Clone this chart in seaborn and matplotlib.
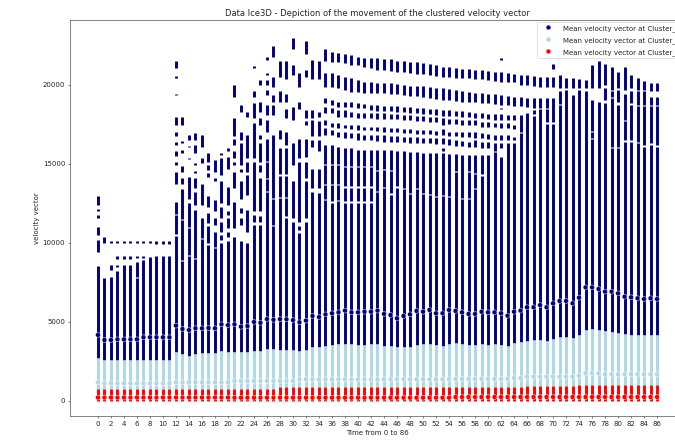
import matplotlib
matplotlib.use("Agg")
import matplotlib.pyplot as plt
import pandas as pd
import seaborn as sns

times = list(range(87))

labels = ["Mean velocity vector at Cluster_0",
          "Mean velocity vector at Cluster_1",
          "Mean velocity vector at Cluster_2"]
colors = ["navy", "lightblue", "red"]

# mean velocity of each cluster per time step (thousands)
c0_mean_k = [4.18, 3.86, 3.86, 3.90, 3.90, 3.90, 3.90, 4.03, 4.03, 4.03, 4.03, 4.03,
             4.77, 4.56, 4.49, 4.60, 4.60, 4.62, 4.60, 4.85, 4.80, 4.85, 4.70, 4.74,
             5.00, 4.95, 5.18, 5.14, 5.18, 5.17, 5.12, 4.98, 5.09, 5.38, 5.31, 5.48,
             5.55, 5.61, 5.72, 5.61, 5.61, 5.65, 5.65, 5.72, 5.51, 5.44, 5.23, 5.38,
             5.48, 5.70, 5.65, 5.76, 5.55, 5.55, 5.76, 5.70, 5.61, 5.51, 5.51, 5.65,
             5.61, 5.61, 5.55, 5.40, 5.65, 5.72, 5.93, 5.93, 6.07, 5.93, 6.18, 6.33,
             6.33, 6.18, 6.54, 7.19, 7.19, 7.09, 6.92, 6.92, 6.81, 6.60, 6.56, 6.50,
             6.45, 6.50, 6.45]
c1_mean_k = [1.18, 1.12, 1.12, 1.12, 1.12, 1.12, 1.12, 1.12, 1.12, 1.12, 1.12, 1.12,
             1.18, 1.18, 1.18, 1.18, 1.18, 1.18, 1.18, 1.18, 1.18, 1.27, 1.27, 1.27,
             1.27, 1.27, 1.27, 1.27, 1.27, 1.27, 1.27, 1.37, 1.37, 1.37, 1.37, 1.37,
             1.37, 1.37, 1.37, 1.37, 1.37, 1.37, 1.37, 1.37, 1.37, 1.37, 1.37, 1.37,
             1.37, 1.37, 1.37, 1.37, 1.37, 1.37, 1.37, 1.39, 1.39, 1.39, 1.39, 1.39,
             1.39, 1.39, 1.39, 1.39, 1.45, 1.45, 1.54, 1.54, 1.54, 1.54, 1.54, 1.54,
             1.54, 1.54, 1.60, 1.75, 1.75, 1.75, 1.69, 1.69, 1.69, 1.69, 1.69, 1.69,
             1.69, 1.69, 1.69]
c2_mean_k = [0.22, 0.22, 0.22, 0.22, 0.22, 0.22, 0.22, 0.22, 0.22, 0.22, 0.22, 0.22,
             0.22, 0.22, 0.22, 0.22, 0.22, 0.22, 0.22, 0.22, 0.22, 0.21, 0.21, 0.21,
             0.21, 0.21, 0.21, 0.21, 0.21, 0.21, 0.21, 0.21, 0.21, 0.21, 0.21, 0.21,
             0.21, 0.21, 0.21, 0.21, 0.21, 0.21, 0.21, 0.21, 0.21, 0.21, 0.21, 0.21,
             0.21, 0.21, 0.21, 0.21, 0.21, 0.21, 0.21, 0.25, 0.25, 0.25, 0.25, 0.25,
             0.25, 0.25, 0.25, 0.25, 0.25, 0.25, 0.25, 0.25, 0.25, 0.25, 0.25, 0.25,
             0.25, 0.25, 0.25, 0.25, 0.25, 0.25, 0.25, 0.25, 0.25, 0.25, 0.25, 0.25,
             0.25, 0.25, 0.25]

# upper edge of the cluster 1 and cluster 2 value ranges (thousands)
c1_top_k = [2.74, 2.59, 2.59, 2.59, 2.59, 2.59, 2.59, 2.59, 2.59, 2.59, 2.59, 2.59,
            3.08, 2.98, 2.87, 2.98, 3.03, 3.03, 3.03, 3.14, 3.12, 3.12, 3.08, 3.08,
            3.19, 3.19, 3.27, 3.27, 3.23, 3.23, 3.23, 3.19, 3.23, 3.44, 3.40, 3.50,
            3.54, 3.59, 3.61, 3.59, 3.54, 3.54, 3.59, 3.61, 3.50, 3.48, 3.44, 3.40,
            3.44, 3.54, 3.59, 3.59, 3.54, 3.50, 3.61, 3.65, 3.59, 3.52, 3.52, 3.61,
            3.57, 3.59, 3.57, 3.50, 3.67, 3.71, 3.82, 3.84, 3.88, 3.82, 3.94, 4.03,
            4.03, 3.99, 4.18, 4.52, 4.58, 4.52, 4.45, 4.37, 4.30, 4.26, 4.20, 4.20,
            4.18, 4.20, 4.20]
c2_top_k = [0.76, 0.76, 0.76, 0.76, 0.76, 0.76, 0.76, 0.76, 0.76, 0.76, 0.76, 0.76,
            0.76, 0.76, 0.76, 0.76, 0.76, 0.76, 0.76, 0.76, 0.76, 0.76, 0.76, 0.76,
            0.76, 0.76, 0.76, 0.76, 0.87, 0.87, 0.87, 0.87, 0.87, 0.87, 0.87, 0.87,
            0.87, 0.87, 0.87, 0.87, 0.87, 0.87, 0.87, 0.87, 0.87, 0.87, 0.87, 0.87,
            0.87, 0.87, 0.87, 0.87, 0.87, 0.87, 0.87, 0.91, 0.91, 0.91, 0.91, 0.91,
            0.91, 0.91, 0.91, 0.91, 0.91, 0.91, 0.97, 0.97, 0.97, 0.97, 0.97, 0.97,
            0.97, 0.97, 1.04, 1.04, 1.04, 1.04, 1.04, 1.04, 1.04, 1.04, 1.04, 1.04,
            1.04, 1.04, 1.04]

# cluster 0: top of the dense lower range (thousands)
c0_main_top_k = [8.54, 7.80, 7.87, 8.25, 8.60, 8.60, 8.80, 8.90, 9.10, 9.15, 9.15, 9.15,
                 12.6, 13.4, 12.5, 12.1, 11.55, 9.85, 9.65, 10.0, 10.1, 10.4, 10.1, 10.0,
                 11.15, 11.15, 16.6, 16.85, 16.0, 16.0, 11.35, 10.6, 11.35, 13.25, 13.15, 16.2,
                 16.2, 16.1, 16.0, 16.0, 15.9, 15.9, 15.9, 15.9, 15.9, 15.9, 15.85, 15.8,
                 15.75, 15.75, 15.7, 15.7, 15.7, 15.7, 15.6, 15.6, 15.55, 15.55, 15.55, 15.55,
                 15.55, 15.75, 15.45, 16.3, 16.3, 16.94, 18.25, 18.4, 18.45, 18.48, 17.5, 19.6,
                 19.7, 19.35, 19.7, 19.6, 19.05, 18.95, 18.85, 16.0, 16.0, 16.4, 16.4, 16.3,
                 16.1, 16.2, 16.1]

# cluster 0: empty values splitting the dense lower range (thousands)
c0_breaks_k = [
    [], [], [], [], [], [], [7.8], [], [], [], [], [],
    [10.5, 11.8], [8.9, 11.5], [9.2, 11.0], [9.0], [10.3],
    [], [], [], [], [], [], [], [], [],
    [13.25, 14.1, 15.15], [11.1, 12.8], [12.9, 14.3], [11.65, 12.9, 14.3],
    [], [], [], [], [],
    [12.75, 13.7, 14.95], [12.6, 13.7, 14.95], [12.7, 13.7, 14.95],
    [12.6, 13.55, 14.85], [12.6, 13.55, 14.85], [12.6, 13.55, 14.85],
    [12.6, 13.55, 14.85], [12.6, 13.55, 14.85],
    [13.25, 14.6], [13.5, 14.65], [13.1, 14.6], [13.55], [13.45], [13.15],
    [13.45], [13.15], [13.05], [12.95], [13.0], [12.95], [14.5], [12.8],
    [12.8, 14.5], [13.45, 14.4], [14.3],
    [], [], [], [], [], [], [],
    [18.1], [], [17.6], [], [18.75],
    [], [], [], [],
    [16.6, 17.05],
    [], [], [], [], [], [], [], [], [], [],
]

# cluster 0: detached value ranges above the dense range (thousands)
c0_upper_k = [
    [(9.4, 10.2), (10.5, 11.0), (11.6, 11.75), (12.0, 12.15), (12.4, 13.0)],
    [(10.0, 10.35)],
    [(8.3, 8.6), (10.0, 10.13)],
    [(8.45, 8.6), (9.0, 9.15), (10.0, 10.13)],
    [(9.0, 9.15), (10.0, 10.13)],
    [(9.0, 9.15), (10.0, 10.13)],
    [(9.05, 9.2), (10.0, 10.13)],
    [(9.05, 9.2), (10.0, 10.13)],
    [(10.0, 10.13)],
    [(9.95, 10.1)],
    [(9.95, 10.1)],
    [(9.95, 10.1)],
    [(13.7, 14.5), (14.95, 15.15), (15.5, 15.8), (16.2, 16.4), (16.8, 17.05),
     (17.45, 18.0), (19.35, 19.45), (20.45, 20.55), (21.05, 21.5)],
    [(13.7, 14.1), (14.5, 14.9), (15.7, 15.9), (16.35, 16.45), (17.45, 18.0)],
    [(12.8, 14.2), (15.3, 15.4), (16.05, 16.15), (16.5, 16.85)],
    [(12.4, 13.25), (13.45, 14.1), (14.45, 14.55), (14.95, 15.05), (15.7, 16.2), (16.5, 16.95)],
    [(12.4, 13.7), (15.05, 15.35), (16.1, 16.85)],
    [(10.0, 11.05), (11.25, 11.9), (12.3, 12.95), (14.2, 14.4), (14.6, 14.95), (15.15, 15.7)],
    [(9.75, 10.7), (11.15, 11.55), (12.0, 12.7), (13.9, 14.1), (14.5, 15.25)],
    [(10.2, 10.5), (10.7, 11.35), (11.55, 12.3), (12.5, 13.9), (14.3, 15.35), (15.55, 15.7)],
    [(10.4, 10.7), (10.95, 11.55), (11.8, 12.0), (12.4, 13.55), (14.7, 15.45), (15.8, 16.0)],
    [(10.95, 12.6), (13.45, 14.5), (14.95, 15.15), (15.35, 15.8), (16.2, 16.6),
     (16.75, 17.9), (19.25, 20.0)],
    [(11.15, 11.55), (11.9, 12.2), (12.8, 13.9), (14.5, 14.7), (14.95, 16.3),
     (16.5, 17.05), (18.3, 18.75)],
    [(10.7, 12.1), (13.05, 14.3), (14.5, 15.15), (15.35, 16.85), (18.0, 18.3)],
    [(11.35, 11.75), (12.0, 15.15), (15.35, 17.6), (17.9, 18.85), (19.25, 19.6), (21.1, 21.2)],
    [(11.35, 11.7), (12.0, 14.1), (14.5, 14.95), (15.15, 16.3), (16.6, 16.85),
     (17.45, 17.9), (18.3, 18.95), (20.0, 20.3)],
    [(17.05, 17.8), (18.1, 18.75), (19.35, 19.7), (20.0, 20.3), (20.65, 20.75), (21.6, 21.8)],
    [(18.1, 18.75), (18.95, 19.35), (19.9, 20.5), (21.8, 22.45)],
    [(16.6, 17.15), (18.95, 19.6), (20.5, 21.5)],
    [(16.2, 17.05), (17.9, 18.5), (18.95, 19.45), (20.4, 21.5)],
    [(11.55, 13.9), (14.95, 16.3), (17.8, 18.6), (20.65, 21.25), (22.3, 23.0)],
    [(10.8, 11.05), (11.35, 15.15), (15.35, 16.6), (18.5, 18.95), (19.9, 20.75)],
    [(11.55, 13.9), (14.1, 15.15), (15.45, 16.6), (17.45, 17.7), (17.9, 18.4),
     (20.5, 20.95), (21.95, 22.75)],
    [(13.45, 14.7), (16.1, 16.5), (16.75, 17.8), (17.9, 18.4), (20.4, 21.6)],
    [(13.45, 14.7), (15.8, 16.5), (16.75, 17.7), (18.0, 18.3), (20.4, 21.5)],
    [(16.84, 17.26), (17.47, 17.79), (18.21, 18.63), (18.84, 19.16), (19.90, 20.74), (21.52, 22.28)],
    [(16.84, 17.15), (17.36, 17.58), (18.21, 18.53), (18.74, 19.05), (19.90, 20.74), (21.48, 22.11)],
    [(16.73, 17.05), (17.26, 17.58), (18.00, 18.42), (18.63, 18.95), (19.79, 20.64), (21.44, 22.01)],
    [(16.63, 17.05), (17.26, 17.47), (18.00, 18.42), (18.63, 18.95), (19.69, 20.53), (21.37, 21.94)],
    [(16.63, 16.94), (17.22, 17.47), (18.00, 18.31), (18.63, 18.90), (19.58, 20.42), (21.27, 21.90)],
    [(16.52, 16.94), (17.15, 17.47), (17.89, 18.21), (18.57, 18.84), (19.58, 20.32), (21.27, 21.80)],
    [(16.52, 16.84), (17.15, 17.36), (17.89, 18.21), (18.53, 18.78), (19.47, 20.21), (21.16, 21.73)],
    [(16.52, 16.84), (17.15, 17.36), (17.89, 18.21), (18.42, 18.74), (19.47, 20.21), (21.06, 21.69)],
    [(16.46, 16.84), (17.09, 17.36), (17.85, 18.21), (18.36, 18.74), (19.47, 20.11), (20.95, 21.69)],
    [(16.42, 16.84), (17.05, 17.34), (17.85, 18.21), (18.36, 18.69), (19.47, 20.15), (20.95, 21.65)],
    [(16.42, 16.80), (17.05, 17.30), (17.85, 18.17), (18.36, 18.69), (19.43, 20.11), (20.91, 21.63)],
    [(16.42, 16.77), (17.01, 17.26), (17.83, 18.15), (18.31, 18.65), (19.41, 20.04), (20.85, 21.54)],
    [(16.37, 16.73), (16.96, 17.22), (17.79, 18.10), (18.27, 18.63), (19.37, 20.00), (20.80, 21.52)],
    [(16.35, 16.71), (16.94, 17.20), (17.77, 18.10), (18.25, 18.61), (19.33, 19.96), (20.74, 21.48)],
    [(16.33, 16.69), (16.92, 17.17), (17.74, 18.06), (18.23, 18.57), (19.28, 19.94), (20.72, 21.44)],
    [(16.31, 16.67), (16.90, 17.15), (17.72, 18.04), (18.19, 18.53), (19.24, 19.92), (20.68, 21.37)],
    [(16.31, 16.67), (16.88, 17.15), (17.68, 18.00), (18.15, 18.48), (19.16, 19.90), (20.64, 21.33)],
    [(16.29, 16.63), (16.84, 17.09), (17.64, 17.96), (18.10, 18.46), (19.12, 19.83), (20.59, 21.27)],
    [(15.85, 16.00), (16.25, 16.63), (16.84, 17.22), (17.47, 17.89), (18.06, 18.42),
     (19.05, 19.79), (20.53, 21.16)],
    [(16.20, 16.58), (16.80, 17.05), (17.55, 17.85), (18.04, 18.40), (19.03, 19.75), (20.49, 21.12)],
    [(16.16, 16.52), (16.75, 17.05), (17.51, 17.83), (18.02, 18.36), (18.99, 19.69), (20.47, 21.06)],
    [(16.12, 16.46), (16.73, 17.05), (17.49, 17.81), (18.00, 18.34), (18.95, 19.62), (20.42, 21.04)],
    [(16.10, 16.42), (16.73, 17.05), (17.47, 17.79), (18.00, 18.31), (18.95, 19.58), (20.42, 21.01)],
    [(16.10, 16.52), (16.63, 17.05), (17.47, 17.79), (17.89, 18.25), (18.91, 19.52), (20.36, 20.95)],
    [(15.99, 16.42), (16.63, 16.94), (17.36, 17.68), (17.89, 18.21), (18.84, 19.48), (20.36, 20.95)],
    [(15.99, 16.37), (16.58, 16.88), (17.36, 17.64), (17.85, 18.15), (18.84, 19.43), (20.32, 20.89)],
    [(15.82, 16.31), (16.52, 16.84), (17.32, 17.58), (17.81, 18.15), (18.78, 19.43), (20.28, 20.85)],
    [(15.99, 16.31), (16.52, 16.84), (17.26, 17.58), (17.79, 18.15), (18.48, 18.56),
     (18.74, 19.37), (20.21, 20.85), (21.58, 21.70)],
    [(16.52, 16.84), (17.26, 17.58), (17.79, 18.10), (18.74, 19.33), (20.21, 20.74)],
    [(16.52, 16.73), (17.22, 17.47), (17.79, 18.10), (18.69, 19.26), (20.17, 20.68)],
    [(17.05, 18.10), (18.69, 19.26), (20.00, 20.64)],
    [(18.63, 19.20), (20.00, 20.64)],
    [(18.57, 19.20), (19.94, 20.59)],
    [(18.53, 19.20), (19.90, 20.53)],
    [(18.53, 19.16), (19.90, 20.53)],
    [(17.68, 19.16), (19.90, 20.53), (21.00, 21.30)],
    [(19.79, 20.64)],
    [(19.79, 20.42)],
    [(19.79, 20.42)],
    [(19.79, 20.38)],
    [(19.79, 20.32)],
    [(19.80, 21.25)],
    [(19.80, 21.50)],
    [(19.05, 19.80), (20.00, 21.30)],
    [(16.10, 19.15), (19.25, 19.60), (19.70, 21.15)],
    [(16.10, 18.75), (18.95, 19.70), (19.80, 20.85)],
    [(16.50, 17.70), (17.80, 19.45), (19.70, 21.15)],
    [(16.50, 18.75), (18.85, 19.60), (19.80, 20.65)],
    [(16.40, 18.65), (18.75, 19.60), (19.70, 20.45)],
    [(16.20, 18.65), (18.75, 19.60), (19.70, 20.25)],
    [(16.30, 18.65), (18.75, 19.25), (19.60, 20.15)],
    [(16.20, 18.65), (18.75, 19.25), (19.60, 20.10)],
]

for seq in (c0_mean_k, c1_mean_k, c2_mean_k, c1_top_k, c2_top_k,
            c0_main_top_k, c0_breaks_k, c0_upper_k):
    assert len(seq) == len(times), len(seq)

# value ranges occupied by every cluster at every time step
segments = []
for t in times:
    lo = c1_top_k[t]
    for b in sorted(c0_breaks_k[t]):
        segments.append((t, 0, lo, b - 0.04))
        lo = b + 0.04
    segments.append((t, 0, lo, c0_main_top_k[t]))
    for a, b in c0_upper_k[t]:
        segments.append((t, 0, a, b))
    segments.append((t, 1, c2_top_k[t], c1_top_k[t]))
    segments.append((t, 2, 0.0, c2_top_k[t]))
seg = pd.DataFrame(segments, columns=["time", "cluster", "lo", "hi"])
seg[["lo", "hi"]] *= 1000

means = pd.DataFrame({
    "time": times * 3,
    "velocity": [v * 1000 for v in c0_mean_k + c1_mean_k + c2_mean_k],
    "label": [labels[0]] * 87 + [labels[1]] * 87 + [labels[2]] * 87,
})

sns.set_style("ticks")
fig = plt.figure(figsize=(13.5, 8.86), dpi=50)
ax = fig.add_axes([70 / 675, 27 / 443, 615 / 675, 396 / 443])

for k in range(3):
    part = seg[seg["cluster"] == k]
    ax.vlines(part["time"], part["lo"], part["hi"], colors=colors[k],
              linewidth=4.2, capstyle="butt", zorder=2)

sns.scatterplot(data=means, x="time", y="velocity", hue="label",
                palette=colors, hue_order=labels, s=50, linewidth=0.6,
                edgecolor="white", ax=ax, zorder=3)

ax.set_xlim(-4.3, 90.3)
ax.set_ylim(-950, 24110)
ax.set_xticks(list(range(0, 87, 2)))
ax.set_yticks([0, 5000, 10000, 15000, 20000])
ax.set_title("Data Ice3D - Depiction of the movement of the clustered velocity vector")
ax.set_xlabel("Time from 0 to 86")
ax.set_ylabel("velocity vector")
ax.legend(loc="upper right", labelspacing=0.75, handlelength=2.6,
          borderaxespad=0.3)

fig.savefig("out.png", dpi=50)
